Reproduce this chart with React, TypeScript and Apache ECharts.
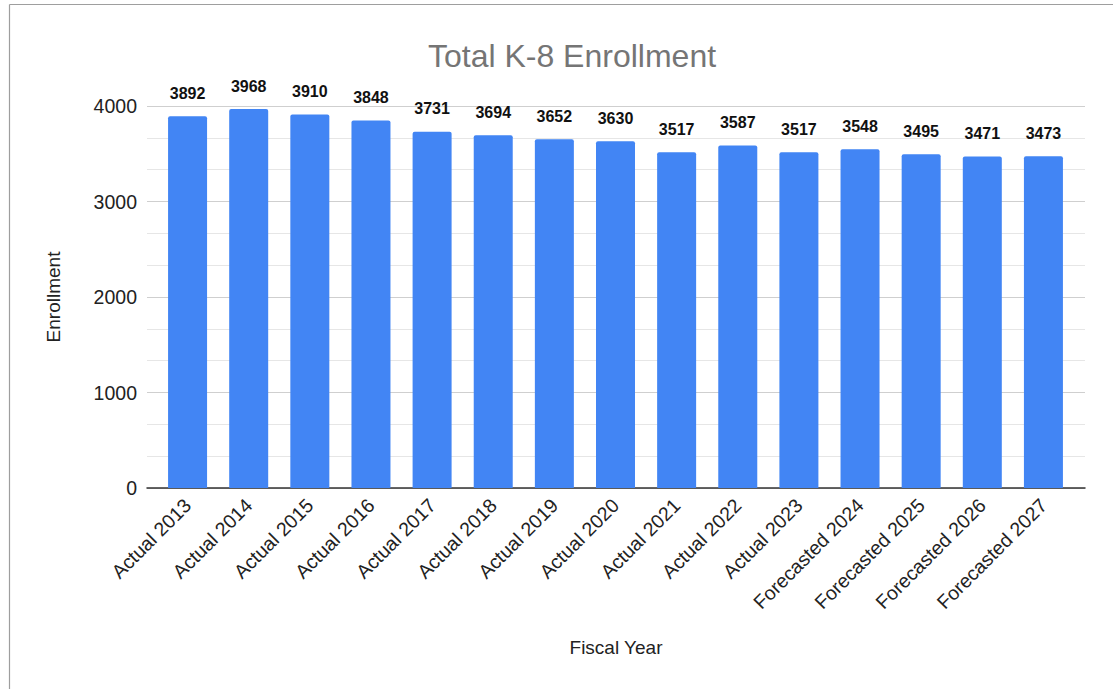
import React, { useEffect, useRef } from "react";
import * as echarts from "echarts";

const categories = [
  "Actual 2013", "Actual 2014", "Actual 2015", "Actual 2016", "Actual 2017",
  "Actual 2018", "Actual 2019", "Actual 2020", "Actual 2021", "Actual 2022",
  "Actual 2023", "Forecasted 2024", "Forecasted 2025", "Forecasted 2026", "Forecasted 2027",
];
const enrollment = [3892, 3968, 3910, 3848, 3731, 3694, 3652, 3630, 3517, 3587, 3517, 3548, 3495, 3471, 3473];
const yMin = 0;
const yMax = 4000;
const yInterval = 1000;

const FONT = "'Liberation Sans', Arial, sans-serif";

export default function App() {
  const ref = useRef<HTMLDivElement>(null);
  useEffect(() => {
    document.body.style.margin = "0";
    const chart = echarts.init(ref.current!, null, { renderer: "svg" });
    const top = 106;
    const bottom = 201;
    chart.setOption({
      animation: false,
      backgroundColor: "#ffffff",
      textStyle: { fontFamily: FONT },
      title: {
        text: "Total K-8 Enrollment",
        left: 567,
        top: 35,
        textAlign: "center",
        textStyle: { fontFamily: FONT, fontSize: 32, fontWeight: "normal", color: "#757575" },
      },
      graphic: [
        { type: "line", shape: { x1: 9.5, y1: 4.5, x2: 1113, y2: 4.5 }, style: { stroke: "#9e9e9e", lineWidth: 1.2 } },
        { type: "line", shape: { x1: 9.5, y1: 4.5, x2: 9.5, y2: 689 }, style: { stroke: "#9e9e9e", lineWidth: 1.2 } },
      ],
      grid: [
        { left: 147, right: 28, top, bottom },
        { left: 157, right: 39, top, bottom },
      ],
      xAxis: [
        {
          gridIndex: 0,
          type: "value",
          min: 0,
          max: 1,
          axisLine: { show: true, onZero: false, lineStyle: { color: "#333333", width: 1.5 } },
          axisTick: { show: false },
          axisLabel: { show: false },
          splitLine: { show: false },
          name: "Fiscal Year",
          nameLocation: "middle",
          nameGap: 150,
          nameTextStyle: { fontFamily: FONT, fontSize: 19, color: "#222222" },
        },
        {
          gridIndex: 1,
          type: "category",
          data: categories,
          axisLine: { show: false },
          axisTick: { show: false },
          axisLabel: {
            rotate: 45,
            interval: 0,
            margin: 14,
            fontFamily: FONT,
            fontSize: 19.5,
            color: "#222222",
          },
        },
      ],
      yAxis: [
        {
          gridIndex: 0,
          type: "value",
          min: yMin,
          max: yMax,
          interval: yInterval,
          axisLine: { show: false },
          axisTick: { show: false },
          axisLabel: {
            margin: 10,
            fontFamily: FONT,
            fontSize: 19.5,
            color: "#222222",
            formatter: (v: number) => String(v),
          },
          splitLine: { show: true, lineStyle: { color: "#cfcfcf", width: 1 } },
          minorTick: { show: false, splitNumber: 3 },
          minorSplitLine: { show: true, lineStyle: { color: "#e6e6e6", width: 1 } },
          name: "Enrollment",
          nameLocation: "middle",
          nameGap: 84,
          nameTextStyle: { fontFamily: FONT, fontSize: 19, color: "#222222" },
        },
        {
          gridIndex: 1,
          type: "value",
          min: yMin,
          max: yMax,
          interval: yInterval,
          show: false,
          splitLine: { show: false },
        },
      ],
      series: [
        {
          type: "bar",
          xAxisIndex: 1,
          yAxisIndex: 1,
          data: enrollment,
          barWidth: 39,
          itemStyle: { color: "#4285F4", borderRadius: [2, 2, 0, 0] },
          label: {
            show: true,
            position: "top",
            distance: 15,
            fontFamily: FONT,
            fontSize: 16,
            fontWeight: "bold",
            color: "#111111",
          },
        },
      ],
    });
    return () => chart.dispose();
  }, []);
  return <div ref={ref} style={{ width: 1113, height: 689 }} />;
}
